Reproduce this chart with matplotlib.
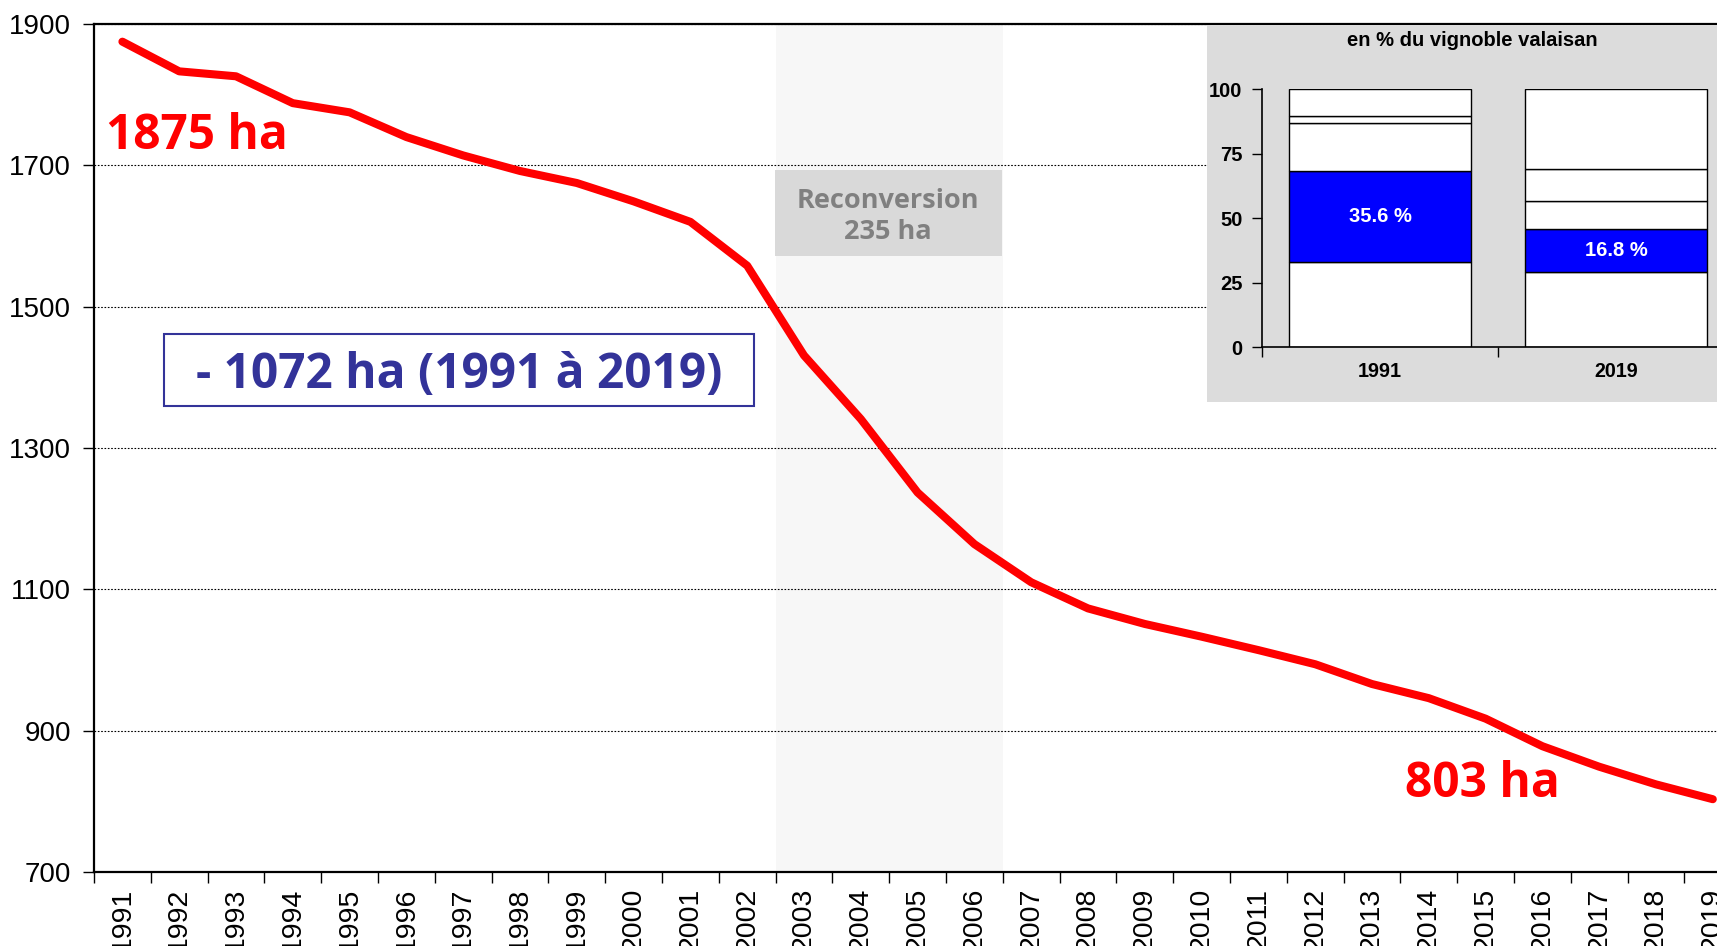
import matplotlib
matplotlib.use('Agg')
import matplotlib.pyplot as plt
import numpy as np
from matplotlib.patches import Rectangle

plt.rcParams['font.family'] = ['Liberation Sans', 'DejaVu Sans']

# ---------------- data ----------------
years = list(range(1991, 2020))
surface = [1875, 1833, 1826, 1788, 1775, 1740, 1714, 1692, 1675, 1649,
           1620, 1558, 1431, 1341, 1237, 1164, 1110, 1073, 1051, 1033,
           1014, 994, 966, 946, 917, 878, 849, 824, 803]
year_labels = [str(y) for y in years]
yticks = [700, 900, 1100, 1300, 1500, 1700, 1900]
reconv_start, reconv_end = 2003, 2006

inset_years = ['1991', '2019']
seg_1991 = [32.8, 35.6, 18.6, 2.4, 10.6]
seg_2019 = [28.9, 16.8, 10.8, 12.5, 31.0]
seg_colors = ['white', '#0000ff', 'white', 'white', 'white']
inset_yticks = [0, 25, 50, 75, 100]
blue_labels = ['35.6 %', '16.8 %']

# ---------------- figure ----------------
W, H = 1717, 946
fig = plt.figure(figsize=(W / 100, H / 100), dpi=100)
fig.patch.set_facecolor('white')

def fx(px):
    return px / W

def fy(py):
    return 1 - py / H

ax = fig.add_axes([fx(94), fy(872), 29 * 56.8 / W, 848 / H])
x = np.arange(len(years))
ax.axvspan(years.index(reconv_start) - 0.5, years.index(reconv_end) + 0.5,
           color='#f7f7f7', lw=0, zorder=0)
ax.plot(x, surface, color='#ff0000', lw=5.8, solid_capstyle='round',
        solid_joinstyle='round', zorder=3)
ax.set_xlim(-0.5, len(years) - 0.5)
ax.set_ylim(700, 1900)
ax.set_yticks(yticks)
ax.tick_params(axis='y', labelsize=20, length=8, width=1, pad=8.5, direction='out')
ax.set_xticks(x)
ax.set_xticklabels(year_labels, rotation=90, fontsize=20.5)
ax.tick_params(axis='x', which='major', length=0, pad=11.5)
ax.set_xticks(np.arange(-0.5, len(years)), minor=True)
ax.tick_params(axis='x', which='minor', length=8, width=1, direction='out')
ax.grid(axis='y', ls=(0, (1.5, 1.5)), lw=0.8, color='black')
for s in ['left', 'bottom', 'top']:
    ax.spines[s].set_linewidth(1.6)
    ax.spines[s].set_color('black')
ax.spines['right'].set_visible(False)

# reconversion box
fig.add_artist(Rectangle((fx(775), fy(256)), (1002 - 775) / W, 86 / H,
                         transform=fig.transFigure, fc='#d9d9d9', ec='none', zorder=1))
fig.text(fx(888), fy(208), 'Reconversion', ha='center', va='baseline', fontsize=19.5,
         fontweight='bold', family='Open Sans', color='#808080', zorder=2)
fig.text(fx(888), fy(239), '235 ha', ha='center', va='baseline', fontsize=19.5,
         fontweight='bold', family='Open Sans', color='#808080', zorder=2)

# big labels
fig.text(fx(106), fy(149), f'{surface[0]} ha', ha='left', va='baseline', fontsize=34.5,
         fontweight='bold', family='Open Sans', color='#ff0000', zorder=4)
fig.text(fx(1405), fy(797), f'{surface[-1]} ha', ha='left', va='baseline', fontsize=34.5,
         fontweight='bold', family='Open Sans', color='#ff0000', zorder=4)

# difference box
fig.add_artist(Rectangle((fx(164), fy(406)), (754 - 164) / W, (406 - 334) / H,
                         transform=fig.transFigure, fc='white', ec='#333399', lw=1.5, zorder=1))
diff = surface[0] - surface[-1]
fig.text(fx(459), fy(388), f'- {diff} ha ({years[0]} à {years[-1]})', ha='center',
         va='baseline', fontsize=34.5, fontweight='bold', family='Open Sans',
         color='#333399', zorder=2)

# ---------------- inset ----------------
fig.add_artist(Rectangle((fx(1207), fy(402)), 1 - fx(1207) + 0.01, (402 - 25.5) / H,
                         transform=fig.transFigure, fc='#dcdcdc', ec='none', zorder=1))
fig.text(fx(1472), fy(46), 'en % du vignoble valaisan', ha='center', va='baseline',
         fontsize=14.5, fontweight='bold', zorder=2)

iax = fig.add_axes([fx(1262), fy(347), 472 / W, 258 / H], zorder=2)
iax.set_facecolor('none')
for i, segs in enumerate([seg_1991, seg_2019]):
    bottom = 0
    for v, c in zip(segs, seg_colors):
        iax.bar(i, v, bottom=bottom, width=0.77, color=c, edgecolor='black', lw=1.0)
        bottom += v
    blue_bottom = segs[0]
    iax.text(i, blue_bottom + segs[1] / 2, blue_labels[i], ha='center', va='center',
             color='white', fontsize=14.5, fontweight='bold')
iax.set_xlim(-0.5, 1.5)
iax.set_ylim(0, 100)
iax.set_yticks(inset_yticks)
iax.set_yticklabels([str(t) for t in inset_yticks], fontweight='bold')
iax.tick_params(axis='y', labelsize=14.5, length=7, width=1, pad=7)
iax.set_xticks([0, 1])
iax.set_xticklabels(inset_years, fontweight='bold')
iax.tick_params(axis='x', which='major', labelsize=14.2, length=0, pad=11)
iax.set_xticks([-0.5, 0.5], minor=True)
iax.tick_params(axis='x', which='minor', length=7, width=1)
for s in ['top', 'right']:
    iax.spines[s].set_visible(False)
for s in ['left', 'bottom']:
    iax.spines[s].set_linewidth(1.2)

fig.savefig('out.png', dpi=100)
